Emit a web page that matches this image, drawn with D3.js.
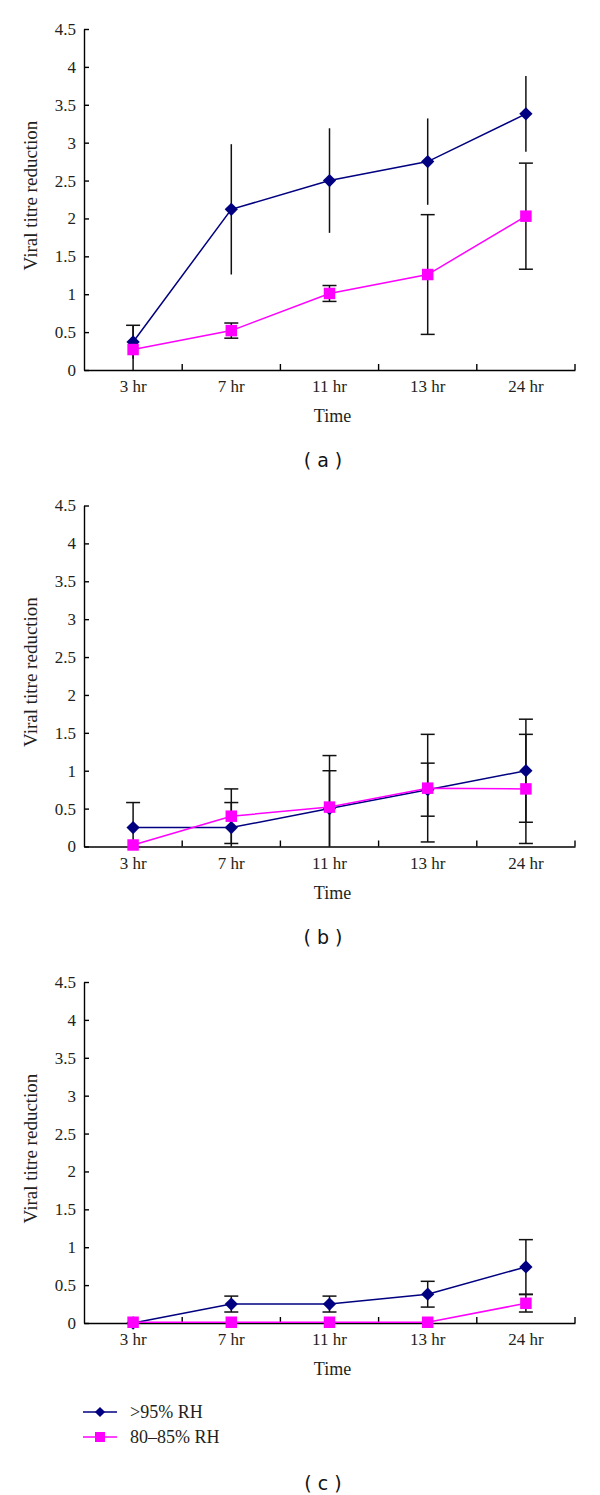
<!DOCTYPE html>
<html>
<head>
<meta charset="utf-8">
<script src="https://cdn.jsdelivr.net/npm/d3@7"></script>
<style>
  html, body { margin: 0; padding: 0; background: #fff; }
  svg { display: block; }
</style>
</head>
<body>
<svg id="chart" width="600" height="1495"></svg>
<script>
// ---------- data ----------
const categories = ["3 hr", "7 hr", "11 hr", "13 hr", "24 hr"];
const yTicks = [0, 0.5, 1, 1.5, 2, 2.5, 3, 3.5, 4, 4.5];
const seriesNames = [">95% RH", "80\u201385% RH"];
const panelLabels = ["( a )", "( b )", "( c )"];
const xTitle = "Time";
const yTitle = "Viral titre reduction";

// panel (a)
const aHighMean = [0.37, 2.12, 2.50, 2.75, 3.38];
const aHighErr  = [0.22, 0.86, 0.69, 0.57, 0.50];
const aLowMean  = [0.27, 0.52, 1.01, 1.26, 2.03];
const aLowErr   = [0.32, 0.10, 0.105, 0.79, 0.70];
// panel (b)
const bHighMean = [0.25, 0.25, 0.50, 0.75, 1.00];
const bHighErr  = [0.33, 0.33, 0.50, 0.35, 0.68];
const bLowMean  = [0.02, 0.40, 0.52, 0.77, 0.76];
const bLowErr   = [0.00, 0.36, 0.68, 0.71, 0.72];
// panel (c)
const cHighMean = [0.00, 0.25, 0.25, 0.38, 0.74];
const cHighErr  = [0.00, 0.105, 0.105, 0.17, 0.36];
const cLowMean  = [0.01, 0.01, 0.01, 0.01, 0.26];
const cLowErr   = [0.00, 0.00, 0.00, 0.00, 0.115];

// ---------- layout ----------
const svg = d3.select("#chart");
const serif = "'Liberation Serif', 'Times New Roman', serif";
const sans = "'DejaVu Sans', Verdana, sans-serif";
const colHigh = "#000080";
const colLow = "#ff00ff";
const textCol = "#231f20";
const left = 84, right = 575;

const panels = [
  { top: 29,    high: aHighMean, highErr: aHighErr, low: aLowMean, lowErr: aLowErr, highCaps: false, label: panelLabels[0], labelY: 467 },
  { top: 505.5, high: bHighMean, highErr: bHighErr, low: bLowMean, lowErr: bLowErr, highCaps: true,  label: panelLabels[1], labelY: 943.5 },
  { top: 982,   high: cHighMean, highErr: cHighErr, low: cLowMean, lowErr: cLowErr, highCaps: true,  label: panelLabels[2], labelY: 1490 }
];
const plotH = 341;

const x = d3.scaleBand().domain(categories).range([left, right]).padding(0);
const cx = c => x(c) + x.bandwidth() / 2;

const diamond = d3.symbol().type(d3.symbolSquare).size(88);
const square = d3.symbol().type(d3.symbolSquare).size(132);

panels.forEach((p, pi) => {
  const y = d3.scaleLinear().domain([0, 4.5]).range([p.top + plotH, p.top]);
  const g = svg.append("g");

  // y axis
  const yAx = g.append("g")
    .attr("transform", `translate(${left},0)`)
    .call(d3.axisLeft(y).tickValues(yTicks).tickSizeInner(-5).tickSizeOuter(0).tickPadding(8).tickFormat(d => String(d)));
  yAx.attr("font-family", null).attr("font-size", null);
  yAx.select(".domain").attr("stroke", "#000").attr("stroke-width", 1.4);
  yAx.selectAll(".tick line").attr("stroke", "#000").attr("stroke-width", 1.4);
  yAx.selectAll("text").style("font-family", serif).style("font-size", "17px").attr("fill", textCol);

  // x axis (labels at centres, ticks at band boundaries)
  const y0 = y(0);
  const xAx = g.append("g")
    .attr("transform", `translate(0,${y0})`)
    .call(d3.axisBottom(x).tickSize(0).tickPadding(10));
  xAx.attr("font-family", null).attr("font-size", null);
  xAx.select(".domain").attr("stroke", "#000").attr("stroke-width", 1.4);
  xAx.selectAll("text").style("font-family", serif).style("font-size", "17px").attr("fill", textCol);
  g.selectAll(".xtick").data(categories).join("line")
    .attr("x1", c => x(c) + x.bandwidth()).attr("x2", c => x(c) + x.bandwidth())
    .attr("y1", y0).attr("y2", y0 - 6)
    .attr("stroke", "#000").attr("stroke-width", 1.4);

  // titles
  g.append("text").attr("x", (left + right) / 2 + 3).attr("y", y0 + 52)
    .attr("text-anchor", "middle").style("font-family", serif).style("font-size", "18px").attr("fill", textCol)
    .text(xTitle);
  g.append("text")
    .attr("transform", `translate(37,${p.top + plotH / 2 - 4}) rotate(-90)`)
    .attr("text-anchor", "middle").style("font-family", serif).style("font-size", "19px").attr("fill", textCol)
    .text(yTitle);
  g.append("text").attr("x", 323).attr("y", p.labelY)
    .attr("text-anchor", "middle").style("font-family", sans).style("font-size", "19px").attr("fill", "#111")
    .text(p.label);

  // error bars
  function errBars(means, errs, caps) {
    const eg = g.append("g").attr("stroke", "#111").attr("stroke-width", 1.5);
    categories.forEach((c, i) => {
      if (!errs[i]) return;
      const hi = means[i] + errs[i];
      const loRaw = means[i] - errs[i];
      const lo = Math.max(0, loRaw);
      eg.append("line").attr("x1", cx(c)).attr("x2", cx(c)).attr("y1", y(hi)).attr("y2", y(lo));
      if (caps) {
        eg.append("line").attr("x1", cx(c) - 7).attr("x2", cx(c) + 7).attr("y1", y(hi)).attr("y2", y(hi));
        if (loRaw > 0) eg.append("line").attr("x1", cx(c) - 7).attr("x2", cx(c) + 7).attr("y1", y(lo)).attr("y2", y(lo));
      }
    });
  }
  errBars(p.high, p.highErr, p.highCaps);
  errBars(p.low, p.lowErr, true);

  const line = d3.line().x((d, i) => cx(categories[i])).y(d => y(d));
  // high RH series
  g.append("path").datum(p.high).attr("d", line).attr("fill", "none").attr("stroke", colHigh).attr("stroke-width", 1.5);
  g.selectAll(".mh").data(p.high).join("path")
    .attr("d", diamond)
    .attr("transform", (d, i) => `translate(${cx(categories[i])},${y(d)}) rotate(45)`)
    .attr("fill", colHigh);
  // low RH series
  g.append("path").datum(p.low).attr("d", line).attr("fill", "none").attr("stroke", colLow).attr("stroke-width", 1.5);
  g.selectAll(".ml").data(p.low).join("path")
    .attr("d", square)
    .attr("transform", (d, i) => `translate(${cx(categories[i])},${y(d)})`)
    .attr("fill", colLow);
});

// legend
const legend = svg.append("g");
const legY = [1412, 1437];
const legCols = [colHigh, colLow];
seriesNames.forEach((name, i) => {
  legend.append("line").attr("x1", 83).attr("x2", 117).attr("y1", legY[i]).attr("y2", legY[i])
    .attr("stroke", legCols[i]).attr("stroke-width", 1.5);
  legend.append("path")
    .attr("d", i === 0 ? d3.symbol().type(d3.symbolSquare).size(52)() : d3.symbol().type(d3.symbolSquare).size(100)())
    .attr("transform", i === 0 ? `translate(100,${legY[i]}) rotate(45)` : `translate(100,${legY[i]})`)
    .attr("fill", legCols[i]);
  legend.append("text").attr("x", 130).attr("y", legY[i] + 6)
    .style("font-family", serif).style("font-size", "18px").attr("fill", textCol)
    .text(name);
});
</script>
</body>
</html>
